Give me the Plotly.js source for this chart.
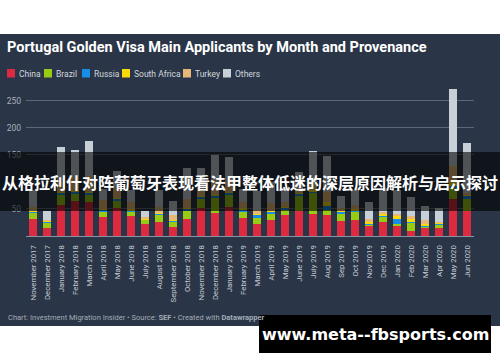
<!DOCTYPE html>
<html>
<head>
<meta charset="utf-8">
<script src="https://cdn.plot.ly/plotly-3.0.1.min.js"></script>
<style>
html,body{margin:0;padding:0;background:#ffffff;}
#chart{width:500px;height:362px;}
</style>
</head>
<body>
<div id="chart"></div>
<script>
const months = ["November 2017","December 2017","January 2018","February 2018","March 2018","April 2018","May 2018","June 2018","July 2018","August 2018","September 2018","October 2018","November 2018","December 2018","January 2019","February 2019","March 2019","April 2019","May 2019","June 2019","July 2019","Aug 2019","Sep 2019","Oct 2019","Nov 2019","Dec 2019","Jan 2020","Feb 2020","Mar 2020","Apr 2020","May 2020","Jun 2020"];
const china       = [32,15,57,64,62,35,51,37,22,26,17,31,52,43,54,34,22,29,38,47,41,38,27,29,18,26,18,10,14,15,69,46];
const brazil      = [10, 9,19,14,13,10,14, 8, 7,12, 9,15,16,27,21,11,12,12,10,27,38,10,14,15, 3, 9, 5,14, 2, 6,20,22];
const russia      = [ 3, 2, 3, 3, 4, 3, 3, 2, 1, 3, 1, 3, 4, 4, 4, 3, 4, 3, 3, 3, 3, 8, 3, 3, 2, 2, 9, 2, 3, 2, 3, 6];
const southAfrica = [ 2, 1, 3, 2, 2, 2, 2, 3, 2, 2, 2, 2, 2, 2, 2, 3, 2, 2, 2, 2, 2, 6, 2, 3, 2, 4, 4, 5, 3, 1,10, 2];
const turkey      = [ 6, 2,22,25,30,16,18,12, 3,10,10,18,16,28,22,12, 8,14,10,10,15,20, 5, 8, 6, 4, 4, 5, 8, 2,28, 4];
const others      = [31,17,60,50,65,20,32,23,11,32,25,56,35,46,43,24,35,40,22,30,58,66,23,27,32,43,45,36,25,25,141,92];
const seriesNames = ["China","Brazil","Russia","South Africa","Turkey","Others"];
const seriesColors = ["#dc2a40","#98cc14","#178fe8","#fadb0a","#e6b877","#c6d0d6"];
const yTicks = [50,100,150,200,250];
const yTickText = ["50","","150","200","250"];
const titleText = "Portugal Golden Visa Main Applicants by Month and Provenance";
const footerText = "Chart: Investment Migration Insider • Source: <b>SEF</b> • Created with <b>Datawrapper</b>";
const bannerText = "从格拉利什对阵葡萄牙表现看法甲整体低迷的深层原因解析与启示探讨";
const watermarkText = "www.meta--fbsports.com";

const W = 500, H = 362, L = 26, R = 26, T = 87, B = 126;
const pw = W - L - R, ph = H - T - B;
const px2x = p => (p - L) / pw;
const py2y = p => (H - B - p) / ph;

const values = [china, brazil, russia, southAfrica, turkey, others];
const traces = values.map((v, i) => ({
  type: "bar",
  x: months,
  y: v,
  name: seriesNames[i],
  marker: {color: seriesColors[i], line: {width: 0}},
  hoverinfo: "x+y+name"
}));

const legendX = [7, 44, 82, 122, 183, 223];
const shapes = [
  {type: "rect", xref: "paper", yref: "paper", x0: px2x(0), x1: px2x(W), y0: py2y(326), y1: py2y(34),
   fillcolor: "#2a3547", line: {width: 0}, layer: "below"},
  {type: "rect", xref: "paper", yref: "paper", x0: px2x(0), x1: px2x(W), y0: py2y(211), y1: py2y(152),
   fillcolor: "rgba(0,0,0,0.6)", line: {width: 0}, layer: "above"},
  {type: "rect", xref: "paper", yref: "paper", x0: px2x(259), x1: px2x(491), y0: py2y(353), y1: py2y(315),
   fillcolor: "#000000", line: {width: 0}, layer: "above"}
];
const annotations = [
  {text: footerText, xref: "paper", yref: "paper", x: px2x(6), y: py2y(317), xanchor: "left", yanchor: "middle",
   showarrow: false, font: {family: "Roboto", size: 7.5, color: "#a3abb6"}},
  {text: "<b>" + bannerText + "</b>", xref: "paper", yref: "paper", x: px2x(250), y: py2y(182), xanchor: "center", yanchor: "middle",
   showarrow: false, font: {family: "Noto Sans CJK SC", size: 16, color: "#ffffff"}},
  {text: "<b>" + watermarkText + "</b>", xref: "paper", yref: "paper", x: px2x(375), y: py2y(334), xanchor: "center", yanchor: "middle",
   showarrow: false, font: {family: "DejaVu Sans", size: 16, color: "#ffffff"}}
];
seriesNames.forEach((n, i) => {
  shapes.push({type: "rect", xref: "paper", yref: "paper", x0: px2x(legendX[i]), x1: px2x(legendX[i] + 8),
    y0: py2y(77.5), y1: py2y(69), fillcolor: seriesColors[i], line: {width: 0}, layer: "above"});
  annotations.push({text: n, xref: "paper", yref: "paper", x: px2x(legendX[i] + 10), y: py2y(73.5),
    xanchor: "left", yanchor: "middle", showarrow: false, font: {family: "Roboto", size: 8.5, color: "#d3d8de"}});
});

const layout = {
  width: W, height: H,
  margin: {l: L, r: R, t: T, b: B, pad: 0},
  paper_bgcolor: "rgba(0,0,0,0)",
  plot_bgcolor: "rgba(0,0,0,0)",
  barmode: "stack",
  bargap: 0.36,
  showlegend: false,
  title: {text: "<b>" + titleText + "</b>", xref: "container", yref: "container", x: 7 / W, xanchor: "left",
          y: 1 - 46.5 / H, yanchor: "middle", font: {family: "Roboto", size: 14.5, color: "#ffffff"}},
  xaxis: {type: "category", tickangle: -90, showgrid: false, zeroline: false, showline: true, linecolor: "#8993a2", linewidth: 1,
          ticks: "", ticklabelstandoff: 5, tickfont: {family: "Roboto", size: 7.8, color: "#c4cad2"}, fixedrange: true},
  yaxis: {range: [0, 275], tickvals: yTicks, ticktext: yTickText, showgrid: true, gridcolor: "#5c6778", gridwidth: 1,
          zeroline: false, showline: false, ticks: "", ticklabelstandoff: 4,
          tickfont: {family: "Roboto", size: 8.5, color: "#a9b1bc"}, fixedrange: true},
  shapes: shapes,
  annotations: annotations
};
Plotly.newPlot("chart", traces, layout, {displayModeBar: false, staticPlot: true});
</script>
</body>
</html>
